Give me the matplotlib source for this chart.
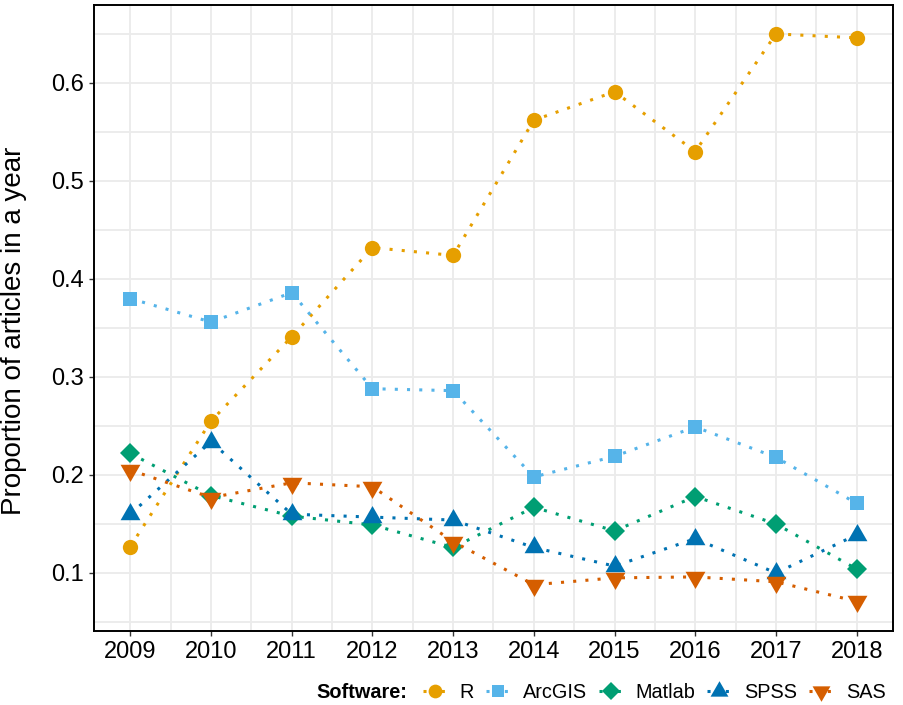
import matplotlib
matplotlib.use("Agg")
import matplotlib.pyplot as plt
from matplotlib.ticker import MultipleLocator
from matplotlib.lines import Line2D

plt.rcParams['font.family'] = ['Liberation Sans', 'DejaVu Sans']

years = [2009, 2010, 2011, 2012, 2013, 2014, 2015, 2016, 2017, 2018]
software = ["R", "ArcGIS", "Matlab", "SPSS", "SAS"]
r_vals = [0.127, 0.255, 0.341, 0.432, 0.424, 0.562, 0.591, 0.530, 0.650, 0.646]
arcgis_vals = [0.380, 0.356, 0.386, 0.288, 0.286, 0.198, 0.219, 0.249, 0.218, 0.171]
matlab_vals = [0.222, 0.179, 0.158, 0.149, 0.126, 0.167, 0.143, 0.178, 0.150, 0.104]
spss_vals = [0.160, 0.234, 0.160, 0.157, 0.154, 0.126, 0.107, 0.135, 0.100, 0.139]
sas_vals = [0.205, 0.177, 0.192, 0.188, 0.132, 0.088, 0.095, 0.096, 0.091, 0.071]

series = [r_vals, arcgis_vals, matlab_vals, spss_vals, sas_vals]
colors = ["#E69F00", "#56B4E9", "#009E73", "#0072B2", "#D55E00"]
tri_up = [(-1.0, -0.577), (1.0, -0.577), (0.0, 1.155), (-1.0, -0.577)]
tri_down = [(-1.0, 0.577), (1.0, 0.577), (0.0, -1.155), (-1.0, 0.577)]
markers = ["o", "s", "D", tri_up, tri_down]
msizes = [11, 10, 10, 16.5, 16.5]
dots = (0, (1, 3))

fig = plt.figure(figsize=(9.04, 7.05), dpi=100)
ax = fig.add_axes([94/904, 1-631/705, 799/904, 626/705])

for vals, c, m, ms in zip(series, colors, markers, msizes):
    ax.plot(years, vals, color=c, linestyle=dots, linewidth=2.2,
            marker=m, markersize=ms, markeredgewidth=0, zorder=3)

ax.set_xlim(2008.55, 2018.45)
ax.set_ylim(0.0408, 0.6795)
ax.set_xticks(years)
ax.set_xticklabels([str(y) for y in years])
ax.xaxis.set_minor_locator(MultipleLocator(0.5))
ax.yaxis.set_minor_locator(MultipleLocator(0.05))
ax.set_yticks([0.1, 0.2, 0.3, 0.4, 0.5, 0.6])
ax.set_yticklabels(["0.1", "0.2", "0.3", "0.4", "0.5", "0.6"])
ax.grid(which='major', color='#EBEBEB', linewidth=1.3, zorder=0)
ax.grid(which='minor', color='#EBEBEB', linewidth=1.3, zorder=0)
ax.set_axisbelow(True)
ax.tick_params(axis='both', which='major', labelsize=17, length=3.5, width=1, color='#333333', pad=4)
ax.tick_params(axis='both', which='minor', length=0)
for s in ax.spines.values():
    s.set_linewidth(1.4)
    s.set_color('black')
ax.set_ylabel("Proportion of articles in a year", fontsize=20)
ax.yaxis.set_label_coords(-0.0835, 0.479)

handles = [Line2D([0], [0], color=c, linestyle=(0, (1, 2)), linewidth=2.2, marker=m,
                  markersize=ms * 0.9, markeredgewidth=0)
           for c, m, ms in zip(colors, markers, msizes)]
fig.text(316/904, 1-692/705, "Software:", fontsize=14.3, fontweight='bold', va='center', ha='left')
leg = fig.legend(handles, software, loc='center left', bbox_to_anchor=(423/904, 1-692/705),
                 ncol=5, frameon=False, fontsize=14.3, handlelength=1.2, handletextpad=0.65,
                 columnspacing=0.6, borderpad=0, borderaxespad=0)

fig.savefig("out.png", dpi=100)
